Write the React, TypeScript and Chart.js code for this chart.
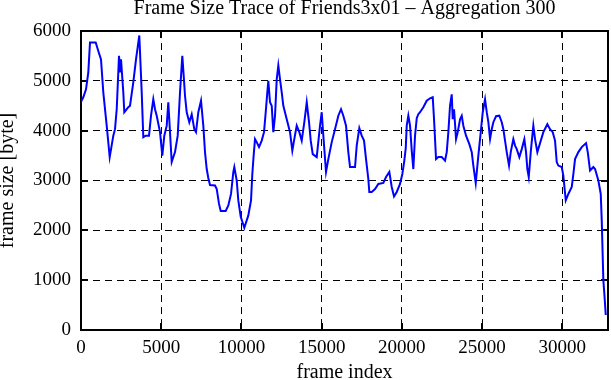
import { useEffect, useRef } from "react";
import { Chart, registerables } from "chart.js";

Chart.register(...registerables);

const chartTitle = "Frame Size Trace of Friends3x01 – Aggregation 300";
const xAxisLabel = "frame index";
const yAxisLabel = "frame size [byte]";
const X_MIN = 0;
const X_MAX = 32850;
const xTickValues = [0, 5000, 10000, 15000, 20000, 25000, 30000];
const Y_MIN = 0;
const Y_MAX = 6000;
const yTickValues = [0, 1000, 2000, 3000, 4000, 5000, 6000];

const frameIndex = [
  0, 143, 312, 455, 561, 916, 1078, 1247, 1390, 1602,
  1789, 2014, 2120, 2226, 2369, 2450, 2494, 2637, 2699, 2949,
  3055, 3260, 3429, 3634, 3784, 3884, 4033, 4239, 4364, 4507,
  4613, 4719, 4925, 5068, 5193, 5343, 5442, 5654, 5860, 6028,
  6172, 6315, 6402, 6483, 6589, 6751, 6901, 7063, 7169, 7313,
  7481, 7624, 7730, 7836, 7936, 8042, 8354, 8460, 8603, 8709,
  9021, 9183, 9351, 9494, 9557, 9706, 9806, 9956, 10180, 10430,
  10598, 10679, 10754, 10847, 10953, 11097, 11265, 11408, 11514, 11614,
  11676, 11782, 11888, 11988, 12094, 12200, 12300, 12406, 12512, 12612,
  12824, 13029, 13173, 13279, 13447, 13609, 13759, 13921, 14071, 14214,
  14320, 14445, 14694, 14899, 15005, 15105, 15273, 15417, 15629, 15834,
  16040, 16208, 16352, 16520, 16663, 16769, 17081, 17187, 17349, 17498,
  17642, 17767, 17910, 17972, 18122, 18328, 18534, 18846, 19014, 19220,
  19369, 19512, 19681, 19886, 20030, 20155, 20242, 20304, 20404, 20510,
  20616, 20716, 20822, 20928, 21027, 21133, 21339, 21551, 21757, 21925,
  22006, 22131, 22274, 22486, 22692, 22798, 22898, 23003, 23109, 23171,
  23253, 23378, 23484, 23627, 23733, 23833, 24001, 24207, 24357, 24456,
  24606, 24768, 24918, 25043, 25186, 25292, 25392, 25498, 25604, 25703,
  25871, 26077, 26227, 26327, 26432, 26538, 26681, 26787, 26949, 27056,
  27162, 27324, 27474, 27636, 27741, 27823, 27910, 28034, 28196, 28302,
  28446, 28614, 28820, 29069, 29237, 29405, 29549, 29654, 29754, 29966,
  30066, 30216, 30378, 30590, 30690, 30796, 31002, 31214, 31482, 31588,
  31731, 31937, 32043, 32249, 32398, 32460, 32560, 32622, 32710,
];

const frameSize = [
  4580, 4670, 4830, 5170, 5770, 5770, 5600, 5430, 4770, 4100,
  3470, 3900, 4030, 4430, 5500, 5170, 5430, 4770, 4370, 4470,
  4500, 4970, 5430, 5910, 4770, 3870, 3900, 3900, 4300, 4630,
  4430, 4300, 3970, 3500, 3900, 4100, 4570, 3370, 3570, 3900,
  4770, 5500, 5100, 4700, 4370, 4170, 4330, 4030, 3970, 4370,
  4600, 4100, 3570, 3230, 3050, 2910, 2900, 2830, 2530, 2390,
  2390, 2500, 2730, 3170, 3270, 3000, 2600, 2270, 2050, 2300,
  2600, 3130, 3470, 3830, 3770, 3670, 3800, 3970, 4370, 4770,
  5000, 4570, 4500, 3970, 4300, 5030, 5310, 5030, 4770, 4500,
  4230, 3970, 3600, 3800, 4100, 3970, 3800, 4170, 4570, 4170,
  3800, 3530, 3470, 4100, 4370, 3900, 3170, 3430, 3770, 4030,
  4300, 4430, 4300, 4100, 3570, 3270, 3270, 3700, 4050, 3900,
  3800, 3430, 3030, 2770, 2770, 2830, 2930, 2950, 3070, 3170,
  2870, 2680, 2770, 2930, 3130, 3400, 3650, 4100, 4300, 4100,
  3600, 3230, 3900, 4250, 4330, 4370, 4470, 4600, 4650, 4670,
  4230, 3430, 3470, 3470, 3400, 3570, 3970, 4500, 4730, 4230,
  4430, 3830, 3970, 4230, 4300, 4100, 3900, 3730, 3570, 3300,
  2950, 3500, 3970, 4370, 4630, 4370, 4170, 3830, 4030, 4170,
  4290, 4300, 4170, 4030, 3800, 3570, 3300, 3570, 3830, 3700,
  3630, 3470, 3630, 3830, 3570, 3230, 3070, 3570, 4100, 3830,
  3570, 3750, 3970, 4130, 4030, 3970, 3800, 3370, 3300, 3270,
  3100, 2600, 2730, 2870, 3130, 3430, 3570, 3670, 3750, 3570,
  3200, 3270, 3230, 3000, 2730, 2200, 1000, 730, 300,
];

const FONT = "'Liberation Serif', 'Times New Roman', serif";

const framePlugin = {
  id: "gnuplotFrame",
  beforeDatasetsDraw(chart: any) {
    const { ctx, chartArea, scales } = chart;
    const { left, right, top, bottom } = chartArea;
    const xs = scales.x;
    const ys = scales.y;
    ctx.save();
    ctx.setLineDash([]);
    ctx.strokeStyle = "#000";
    ctx.lineWidth = 2;
    ctx.strokeRect(left, top, right - left, bottom - top);
    const L = 7;
    ctx.beginPath();
    xs.ticks.forEach((t: any) => {
      const px = Math.round(xs.getPixelForValue(t.value));
      ctx.moveTo(px, bottom);
      ctx.lineTo(px, bottom - L);
      ctx.moveTo(px, top);
      ctx.lineTo(px, top + L);
    });
    ys.ticks.forEach((t: any) => {
      const py = Math.round(ys.getPixelForValue(t.value));
      ctx.moveTo(left, py);
      ctx.lineTo(left + L, py);
      ctx.moveTo(right, py);
      ctx.lineTo(right - L, py);
    });
    ctx.stroke();
    ctx.restore();
  },
};

export default function App() {
  const ref = useRef<HTMLCanvasElement | null>(null);

  useEffect(() => {
    if (!ref.current) return;
    const points = frameIndex.map((f, i) => ({ x: f, y: frameSize[i] }));
    const chart = new Chart(ref.current, {
      type: "line",
      data: {
        datasets: [
          {
            data: points,
            borderColor: "#0000ff",
            borderWidth: 2,
            pointRadius: 0,
            tension: 0,
            fill: false,
          },
        ],
      },
      options: {
        animation: false,
        responsive: false,
        devicePixelRatio: 1,
        layout: { padding: { left: 0, right: 3, top: 0, bottom: 0 } },
        plugins: {
          legend: { display: false },
          tooltip: { enabled: false },
          title: {
            display: true,
            text: chartTitle,
            fullSize: false,
            color: "#000",
            font: { family: FONT, size: 20, weight: "normal", lineHeight: 0.9 },
            padding: { top: 0, bottom: 13 },
          },
        },
        scales: {
          x: {
            type: "linear",
            min: X_MIN,
            max: X_MAX,
            afterFit: (s: any) => {
              s.height = 50;
            },
            afterBuildTicks: (s: any) => {
              s.ticks = xTickValues.map((v) => ({ value: v }));
            },
            ticks: {
              autoSkip: false,
              maxRotation: 0,
              padding: 9,
              color: "#000",
              font: { family: FONT, size: 19, lineHeight: 1 },
              callback: (v: any) => String(v),
            },
            grid: { color: "#000", lineWidth: 1, drawTicks: false },
            border: { display: false, dash: [7, 5] },
            title: {
              display: true,
              text: xAxisLabel,
              color: "#000",
              font: { family: FONT, size: 20, lineHeight: 0.75 },
              padding: { top: 0, bottom: 0 },
            },
          },
          y: {
            type: "linear",
            min: Y_MIN,
            max: Y_MAX,
            afterFit: (s: any) => {
              s.width = 81;
            },
            afterBuildTicks: (s: any) => {
              s.ticks = yTickValues.map((v) => ({ value: v }));
            },
            ticks: {
              autoSkip: false,
              padding: 10,
              color: "#000",
              font: { family: FONT, size: 19, lineHeight: 1 },
              callback: (v: any) => String(v),
            },
            grid: { color: "#000", lineWidth: 1, drawTicks: false },
            border: { display: false, dash: [7, 5] },
            title: {
              display: true,
              text: yAxisLabel,
              color: "#000",
              font: { family: FONT, size: 20, lineHeight: 0.8 },
              padding: { top: 0, bottom: 0 },
            },
          },
        },
      },
      plugins: [framePlugin],
    });
    return () => chart.destroy();
  }, []);

  return (
    <div style={{ position: "fixed", left: 0, top: 0, width: 611, height: 380, background: "#fff" }}>
      <canvas ref={ref} width={611} height={380} style={{ display: "block", width: 611, height: 380 }} />
    </div>
  );
}
